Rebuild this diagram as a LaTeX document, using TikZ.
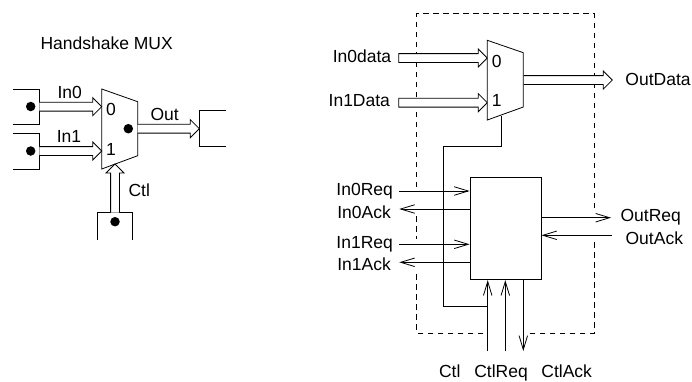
\documentclass[tikz,border=0pt]{standalone}
\usepackage{fontspec}
\setmainfont{Liberation Sans}
\usetikzlibrary{arrows.meta,calc}
\tikzset{
  wire/.style={line width=.8pt,black},
  sig/.style={wire,-{Straight Barb[length=14pt,width=8.5pt,line width=.8pt]}},
  txt/.style={font=\fontsize{17.5}{20}\selectfont,inner sep=0pt,text=black,anchor=base},
  blob/.style={circle,fill=black,inner sep=0pt,minimum size=9.5pt},
  dashbox/.style={line width=.8pt,black,dash pattern=on 5.5pt off 4.5pt}
}
% #1 closed tail or open (cycle / empty), #2 start, #3 tip
\newcommand\hollow[3]{%
  \path let \p1=($(#3)-(#2)$) in \pgfextra{%
    \pgfmathsetmacro\hang{atan2(\y1,\x1)}%
    \pgfmathsetmacro\hlen{veclen(\x1,\y1)}%
    \xdef\hangG{\hang}\xdef\hlenG{\hlen}};
  \begin{scope}[shift={(#2)},rotate=\hangG,x=1pt,y=1pt]
    \fill[white] (0,4.4) -- (\hlenG-9,4.4) -- (\hlenG-9,9) -- (\hlenG,0) -- (\hlenG-9,-9) -- (\hlenG-9,-4.4) -- (0,-4.4) -- cycle;
    \draw[wire,line join=miter] (0,4.4) -- (\hlenG-9,4.4) -- (\hlenG-9,9) -- (\hlenG,0) -- (\hlenG-9,-9) -- (\hlenG-9,-4.4) -- (0,-4.4) #1;
  \end{scope}}
\begin{document}
\begin{tikzpicture}[x=1pt,y=-1pt]
\useasboundingbox (0,0) rectangle (692,381);
% ---------- left: handshake MUX
\node[txt] (title) at (106.7,49.3) {Handshake MUX};
\coordinate (ma) at (101.7,89);
\coordinate (mb) at (137.7,101.7);
\coordinate (mc) at (137.7,155.7);
\coordinate (md) at (101.7,169);
\draw[wire,fill=white] (ma) -- (mb) -- (mc) -- (md) -- cycle;
\draw[wire] (13.3,89) -- (39.3,89) -- (39.3,124.3) -- (13.3,124.3);
\draw[wire] (13.3,133.3) -- (39.3,133.3) -- (39.3,169) -- (13.3,169);
\draw[wire] (226,110.3) -- (199.3,110.3) -- (199.3,146.7) -- (226,146.7);
\draw[wire] (97,240) -- (97,212.7) -- (132.7,212.7) -- (132.7,240);
\node[blob] (d0) at (30.7,106.5) {};
\node[blob] (d1) at (30.7,151) {};
\node[blob] (d2) at (128.3,128.7) {};
\node[blob] (d3) at (115,221.7) {};
\coordinate (a0s) at (39.3,106.7); \coordinate (a0t) at (101.7,106.7);
\coordinate (a1s) at (39.3,151);   \coordinate (a1t) at (101.7,151);
\coordinate (aos) at (137.7,128.7);\coordinate (aot) at (199.3,128.7);
\coordinate (acs) at (115,212.7);  \coordinate (act) at (115,164);
\hollow{}{a0s}{a0t}
\hollow{}{a1s}{a1t}
\hollow{}{aos}{aot}
\hollow{}{acs}{act}
\node[txt] (l0) at (69.7,98) {In0};
\node[txt] (l1) at (69,142.3) {In1};
\node[txt] (lz) at (111,115) {0};
\node[txt] (lo) at (111,155) {1};
\node[txt] (lout) at (164.7,120) {Out};
\node[txt] (lctl) at (139.3,196) {Ctl};
% ---------- right: implementation
\draw[dashbox] (416.7,187) -- (416.7,13.7) -- (594.3,13.7) -- (594.3,208);
\draw[dashbox] (594.3,242) -- (594.3,333) -- (528.3,333);
\draw[dashbox] (483.3,333) -- (416.7,333) -- (416.7,270);
\draw[dashbox] (416.7,216) -- (416.7,239);
\coordinate (na) at (487.3,40.3);
\coordinate (nb) at (523.3,52.7);
\coordinate (nc) at (523.3,107);
\coordinate (nd) at (487.3,120);
\node[draw,line width=.8pt,fill=white,minimum width=71pt,minimum height=102pt,inner sep=0pt] (blk) at (505.5,228.7) {};
\coordinate (b0s) at (398.7,58);  \coordinate (b0t) at (487.3,58);
\coordinate (b1s) at (398.7,102.7);\coordinate (b1t) at (487.3,102.7);
\coordinate (bos) at (523.3,80);  \coordinate (bot) at (612.3,80);
\hollow{-- cycle}{b0s}{b0t}
\hollow{-- cycle}{b1s}{b1t}
\hollow{}{bos}{bot}
\draw[wire,fill=white] (na) -- (nb) -- (nc) -- (nd) -- cycle;
\coordinate (sel) at (501,115.7);
\coordinate (ctljoin) at (487.7,306.3);
\draw[wire] (sel) |- (443.7,146) -- (443.7,306.3) -- (ctljoin);
\coordinate (i0r) at (399.3,191);
\coordinate (i0a) at (399.3,209);
\coordinate (i1r) at (399.3,244.3);
\coordinate (i1a) at (399.3,262.3);
\coordinate (or) at (611,217.7);
\coordinate (oa) at (611.7,235.3);
\coordinate (cc) at (487.7,351);
\coordinate (cr) at (505.3,351);
\coordinate (ca) at (523.3,351);
\draw[sig] (i0r) -- (i0r -| blk.west);
\draw[sig] (i0a -| blk.west) -- (i0a);
\draw[sig] (i1r) -- (i1r -| blk.west);
\draw[sig] (i1a -| blk.west) -- (i1a);
\draw[sig] (or -| blk.east) -- (or);
\draw[sig] (oa) -- (oa -| blk.east);
\draw[sig] (cc) -- (cc |- blk.south);
\draw[sig] (cr) -- (cr |- blk.south);
\draw[sig] (ca |- blk.south) -- (ca);
\node[txt] (t1) at (362,62.3) {In0data};
\node[txt] (t2) at (359.3,106.7) {In1Data};
\node[txt] (t3) at (658,85) {OutData};
\node[txt] (t4) at (496.7,67.3) {0};
\node[txt] (t5) at (496.7,106.7) {1};
\node[txt] (t6) at (364.7,195) {In0Req};
\node[txt] (t7) at (364,218.3) {In0Ack};
\node[txt] (t8) at (364.7,248.7) {In1Req};
\node[txt] (t9) at (364,270.7) {In1Ack};
\node[txt] (t10) at (650.7,221.7) {OutReq};
\node[txt] (t11) at (654.3,244) {OutAck};
\node[txt] (t12) at (449.7,377.3) {Ctl};
\node[txt] (t13) at (501,377.3) {CtlReq};
\node[txt] (t14) at (566.7,377.3) {CtlAck};
\end{tikzpicture}
\end{document}
